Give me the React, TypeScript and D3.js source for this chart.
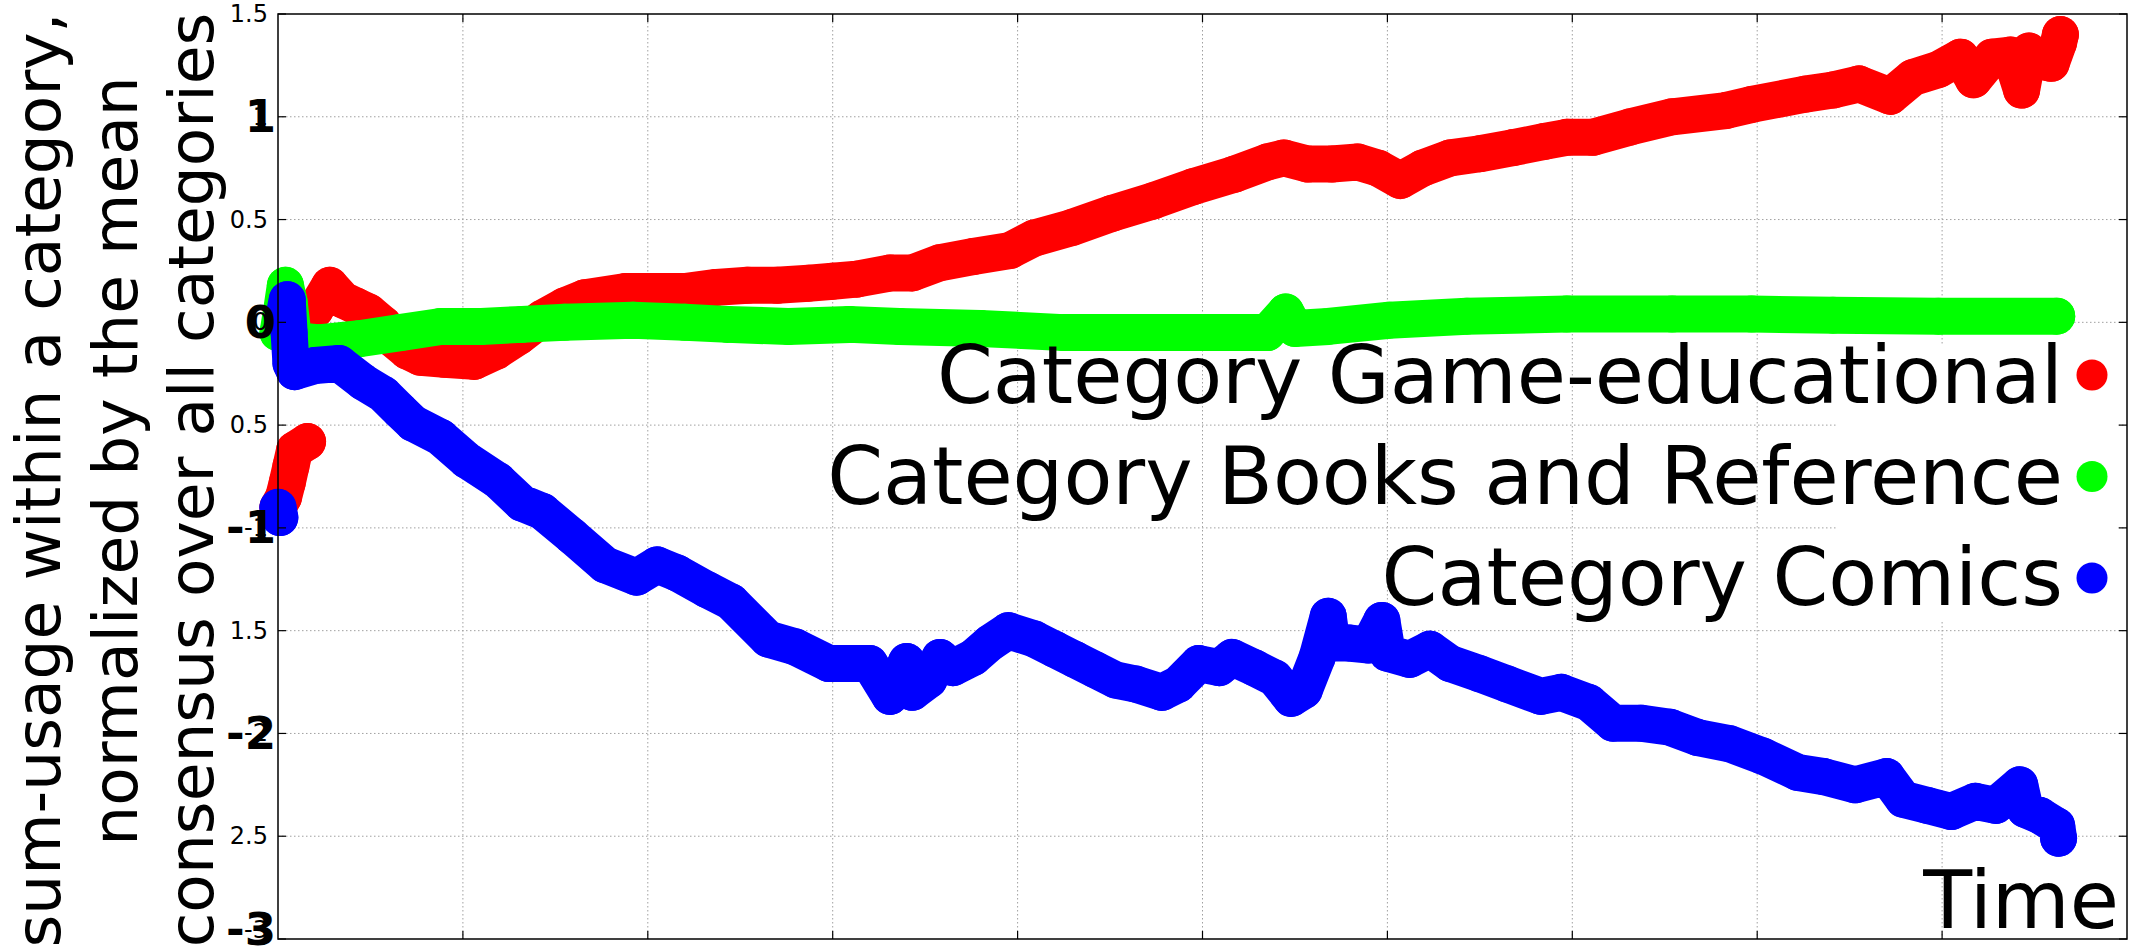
import React from 'react';
import * as d3 from 'd3';

const W = 2129;
const H = 951;
const PLOT = { left: 278, right: 2127, top: 14, bottom: 939 };

// axis domains / ticks
const timeDomain: [number, number] = [0, 10];
const valueDomain: [number, number] = [-3, 1.5];
const xGridTicks = [1, 2, 3, 4, 5, 6, 7, 8, 9];
const yTicks = [1.5, 1, 0.5, 0, -0.5, -1, -1.5, -2, -2.5, -3];
const ySmallLabels = ['1.5', '1', '0.5', '0', '0.5', '-1', '1.5', '-2', '2.5', '-3'];
const yBoldTicks = [1, 0, -1, -2, -3];
const yBoldLabels = ['1', '0', '-1', '-2', '-3'];

const yLabelLines = ['sum-usage within a category,', 'normalized by the mean', 'consensus over all categories'];
const xLabel = 'Time';

const seriesNames = ['Category Game-educational', 'Category Books and Reference', 'Category Comics'];
const seriesColors = ['#ff0000', '#00ff00', '#0000ff'];

// [time, value]
const gameEducational: [number, number][] = [
  [0.0, -0.9], [0.03, -0.85], [0.05, -0.78], [0.07, -0.7], [0.09, -0.62], [0.16, -0.58],
  [0.2, 0.06], [0.28, 0.18], [0.35, 0.11], [0.42, 0.08], [0.49, 0.05], [0.57, -0.01], [0.62, -0.08],
  [0.7, -0.14], [0.77, -0.17], [0.9, -0.18], [1.06, -0.19], [1.18, -0.14], [1.3, -0.07], [1.43, 0.02],
  [1.55, 0.08], [1.66, 0.12], [1.88, 0.15], [2.05, 0.15], [2.2, 0.15], [2.37, 0.17], [2.54, 0.18],
  [2.7, 0.18], [2.87, 0.19], [3.0, 0.2], [3.13, 0.21], [3.31, 0.24], [3.43, 0.24], [3.58, 0.29],
  [3.76, 0.32], [3.96, 0.35], [4.09, 0.41], [4.29, 0.46], [4.51, 0.53], [4.73, 0.59], [4.95, 0.66],
  [5.17, 0.72], [5.35, 0.78], [5.44, 0.8], [5.57, 0.77], [5.7, 0.77], [5.84, 0.78], [5.95, 0.75],
  [6.07, 0.69], [6.19, 0.75], [6.34, 0.8], [6.5, 0.82], [6.68, 0.85], [6.85, 0.88], [6.97, 0.9],
  [7.11, 0.9], [7.31, 0.95], [7.54, 1.0], [7.83, 1.03], [7.97, 1.06], [8.26, 1.11], [8.41, 1.13],
  [8.55, 1.16], [8.72, 1.1], [8.84, 1.19], [8.98, 1.23], [9.1, 1.29], [9.17, 1.18], [9.27, 1.29],
  [9.37, 1.3], [9.43, 1.13], [9.47, 1.32], [9.53, 1.27], [9.59, 1.26], [9.63, 1.36], [9.64, 1.4],
];

const booksReference: [number, number][] = [
  [0.0, -0.05], [0.02, 0.06], [0.04, 0.18], [0.06, 0.1], [0.08, -0.05], [0.12, -0.09], [0.22, -0.1],
  [0.44, -0.08], [0.66, -0.05], [0.88, -0.02], [1.1, -0.02], [1.32, -0.01], [1.55, 0.0], [1.92, 0.01],
  [2.2, 0.0], [2.43, -0.01], [2.76, -0.02], [3.09, -0.01], [3.36, -0.02], [3.8, -0.03], [4.25, -0.05],
  [4.69, -0.05], [5.13, -0.05], [5.35, -0.05], [5.45, 0.05], [5.5, -0.03], [5.68, -0.02], [6.01, 0.01],
  [6.43, 0.03], [6.97, 0.04], [7.54, 0.04], [7.97, 0.04], [8.41, 0.035], [8.98, 0.03], [9.62, 0.03],
];

const comics: [number, number][] = [
  [0.0, -0.9], [0.01, -0.95], [0.03, 0.02], [0.05, 0.11], [0.06, -0.05], [0.07, -0.2], [0.09, -0.24],
  [0.2, -0.21], [0.33, -0.2], [0.46, -0.29], [0.57, -0.35], [0.66, -0.43], [0.73, -0.49], [0.88, -0.56],
  [1.02, -0.67], [1.19, -0.77], [1.32, -0.88], [1.43, -0.92], [1.59, -1.04], [1.77, -1.18], [1.94, -1.24],
  [2.05, -1.18], [2.16, -1.22], [2.32, -1.3], [2.45, -1.36], [2.65, -1.54], [2.8, -1.58], [2.98, -1.66],
  [3.2, -1.66], [3.31, -1.82], [3.4, -1.65], [3.43, -1.8], [3.52, -1.74], [3.58, -1.63], [3.65, -1.68],
  [3.76, -1.63], [3.85, -1.56], [3.95, -1.5], [4.09, -1.54], [4.2, -1.59], [4.31, -1.64], [4.42, -1.69],
  [4.53, -1.74], [4.64, -1.76], [4.78, -1.8], [4.87, -1.76], [4.98, -1.66], [5.09, -1.68], [5.16, -1.63],
  [5.28, -1.68], [5.39, -1.73], [5.48, -1.83], [5.55, -1.79], [5.62, -1.63], [5.68, -1.43], [5.7, -1.56],
  [5.79, -1.56], [5.9, -1.57], [5.97, -1.45], [6.0, -1.61], [6.12, -1.64], [6.23, -1.59], [6.34, -1.66],
  [6.5, -1.71], [6.65, -1.76], [6.83, -1.82], [6.94, -1.8], [7.09, -1.85], [7.22, -1.95], [7.37, -1.95],
  [7.53, -1.97], [7.68, -2.02], [7.85, -2.05], [8.03, -2.11], [8.22, -2.19], [8.36, -2.21], [8.53, -2.25],
  [8.7, -2.21], [8.79, -2.32], [8.92, -2.35], [9.05, -2.38], [9.18, -2.33], [9.29, -2.35], [9.42, -2.25],
  [9.45, -2.37], [9.53, -2.4], [9.62, -2.45], [9.63, -2.51],
];

const allSeries = [gameEducational, booksReference, comics];

const FONT = "'DejaVu Sans', Verdana, sans-serif";
const R = 18.5;
const BAND = 37;

export default function App() {
  const x = d3.scaleLinear().domain(timeDomain).range([PLOT.left, PLOT.right]);
  const y = d3.scaleLinear().domain(valueDomain).range([PLOT.bottom, PLOT.top]);

  const line = d3
    .line<[number, number]>()
    .x((d) => x(d[0]))
    .y((d) => y(d[1]))
    .curve(d3.curveLinear);

  // split into segments where the series jumps vertically (no connecting stroke there)
  const segmentsOf = (data: [number, number][]) => {
    const segs: [number, number][][] = [];
    let cur: [number, number][] = [];
    data.forEach((d, i) => {
      if (i > 0) {
        const p = data[i - 1];
        if (Math.abs(y(d[1]) - y(p[1])) > 90) {
          segs.push(cur);
          cur = [];
        }
      }
      cur.push(d);
    });
    segs.push(cur);
    return segs;
  };

  // legend background box (white), as left in the original figure
  const legendBox = { x0: 1837, x1: 2118, y0: 345, y1: 620 };

  const gridStyle = { stroke: '#a0a0a0', strokeWidth: 1, strokeDasharray: '1.5,2.5' } as const;

  // per-line vertical centre of the rotated y-label lines
  const yLabelCenters = [480, 461, 480];

  return (
    <div style={{ position: 'absolute', left: 0, top: 0, width: W, height: H, overflow: 'hidden', background: '#fff' }}>
      <style>{'body{margin:0;overflow:hidden;}'}</style>
      <svg width={W} height={H} viewBox={`0 0 ${W} ${H}`} style={{ display: 'block', fontFamily: FONT }}>
        <rect x={0} y={0} width={W} height={H} fill="#fff" />

        {/* grid */}
        <g>
          {xGridTicks.map((t) => (
            <line key={'gx' + t} x1={x(t)} x2={x(t)} y1={PLOT.top} y2={PLOT.bottom} {...gridStyle} />
          ))}
          {yTicks
            .filter((v) => v > valueDomain[0] && v < valueDomain[1])
            .map((v) => (
              <line key={'gy' + v} x1={PLOT.left} x2={PLOT.right} y1={y(v)} y2={y(v)} {...gridStyle} />
            ))}
        </g>

        {/* legend background */}
        <rect
          x={legendBox.x0}
          y={legendBox.y0}
          width={legendBox.x1 - legendBox.x0}
          height={legendBox.y1 - legendBox.y0}
          fill="#fff"
        />

        {/* data */}
        {allSeries.map((data, si) => (
          <g key={'s' + si} fill={seriesColors[si]}>
            {segmentsOf(data).map((seg, k) => (
              <path
                key={'p' + k}
                d={line(seg) || ''}
                fill="none"
                stroke={seriesColors[si]}
                strokeWidth={BAND}
                strokeLinecap="round"
                strokeLinejoin="round"
              />
            ))}
            {data.map((d, i) => (
              <circle key={'c' + i} cx={x(d[0])} cy={y(d[1])} r={R} />
            ))}
          </g>
        ))}

        {/* axes box */}
        <rect
          x={PLOT.left}
          y={PLOT.top}
          width={PLOT.right - PLOT.left}
          height={PLOT.bottom - PLOT.top}
          fill="none"
          stroke="#000"
          strokeWidth={1.5}
        />
        {/* ticks */}
        {xGridTicks.map((t) => (
          <g key={'tx' + t} stroke="#000" strokeWidth={1.2}>
            <line x1={x(t)} x2={x(t)} y1={PLOT.bottom} y2={PLOT.bottom - 8} />
            <line x1={x(t)} x2={x(t)} y1={PLOT.top} y2={PLOT.top + 8} />
          </g>
        ))}
        {yTicks.map((v) => (
          <g key={'ty' + v} stroke="#000" strokeWidth={1.2}>
            <line x1={PLOT.left} x2={PLOT.left + 8} y1={y(v)} y2={y(v)} />
            <line x1={PLOT.right} x2={PLOT.right - 8} y1={y(v)} y2={y(v)} />
          </g>
        ))}

        {/* y tick labels: small */}
        {yTicks.map((v, i) => (
          <text
            key={'yl' + v}
            x={268}
            y={Math.min(y(v), 930)}
            textAnchor="end"
            dominantBaseline="central"
            fontSize={24}
            fill="#000"
          >
            {ySmallLabels[i]}
          </text>
        ))}
        {/* y tick labels: bold overlay */}
        {yBoldTicks.map((v, i) => (
          <text
            key={'yb' + v}
            x={276}
            y={Math.min(y(v), 929)}
            textAnchor="end"
            dominantBaseline="central"
            fontSize={45}
            fontWeight="bold"
            fill="#000"
          >
            {yBoldLabels[i]}
          </text>
        ))}

        {/* y label (three rotated lines) */}
        {yLabelLines.map((s, i) => {
          const bx = 60 + i * 76.5;
          const cy = yLabelCenters[i];
          return (
            <text
              key={'ylab' + i}
              x={bx}
              y={cy}
              transform={`rotate(-90, ${bx}, ${cy})`}
              textAnchor="middle"
              fontSize={63}
              fill="#000"
            >
              {s}
            </text>
          );
        })}

        {/* x label */}
        <text x={2119} y={928} textAnchor="end" fontSize={80} fill="#000">
          {xLabel}
        </text>

        {/* legend */}
        {seriesNames.map((name, i) => (
          <g key={'lg' + i}>
            <text x={2063} y={403 + i * 101} textAnchor="end" fontSize={80} fill="#000">
              {name}
            </text>
            <circle cx={2092} cy={375 + i * 101.5} r={15.5} fill={seriesColors[i]} />
          </g>
        ))}
      </svg>
    </div>
  );
}
